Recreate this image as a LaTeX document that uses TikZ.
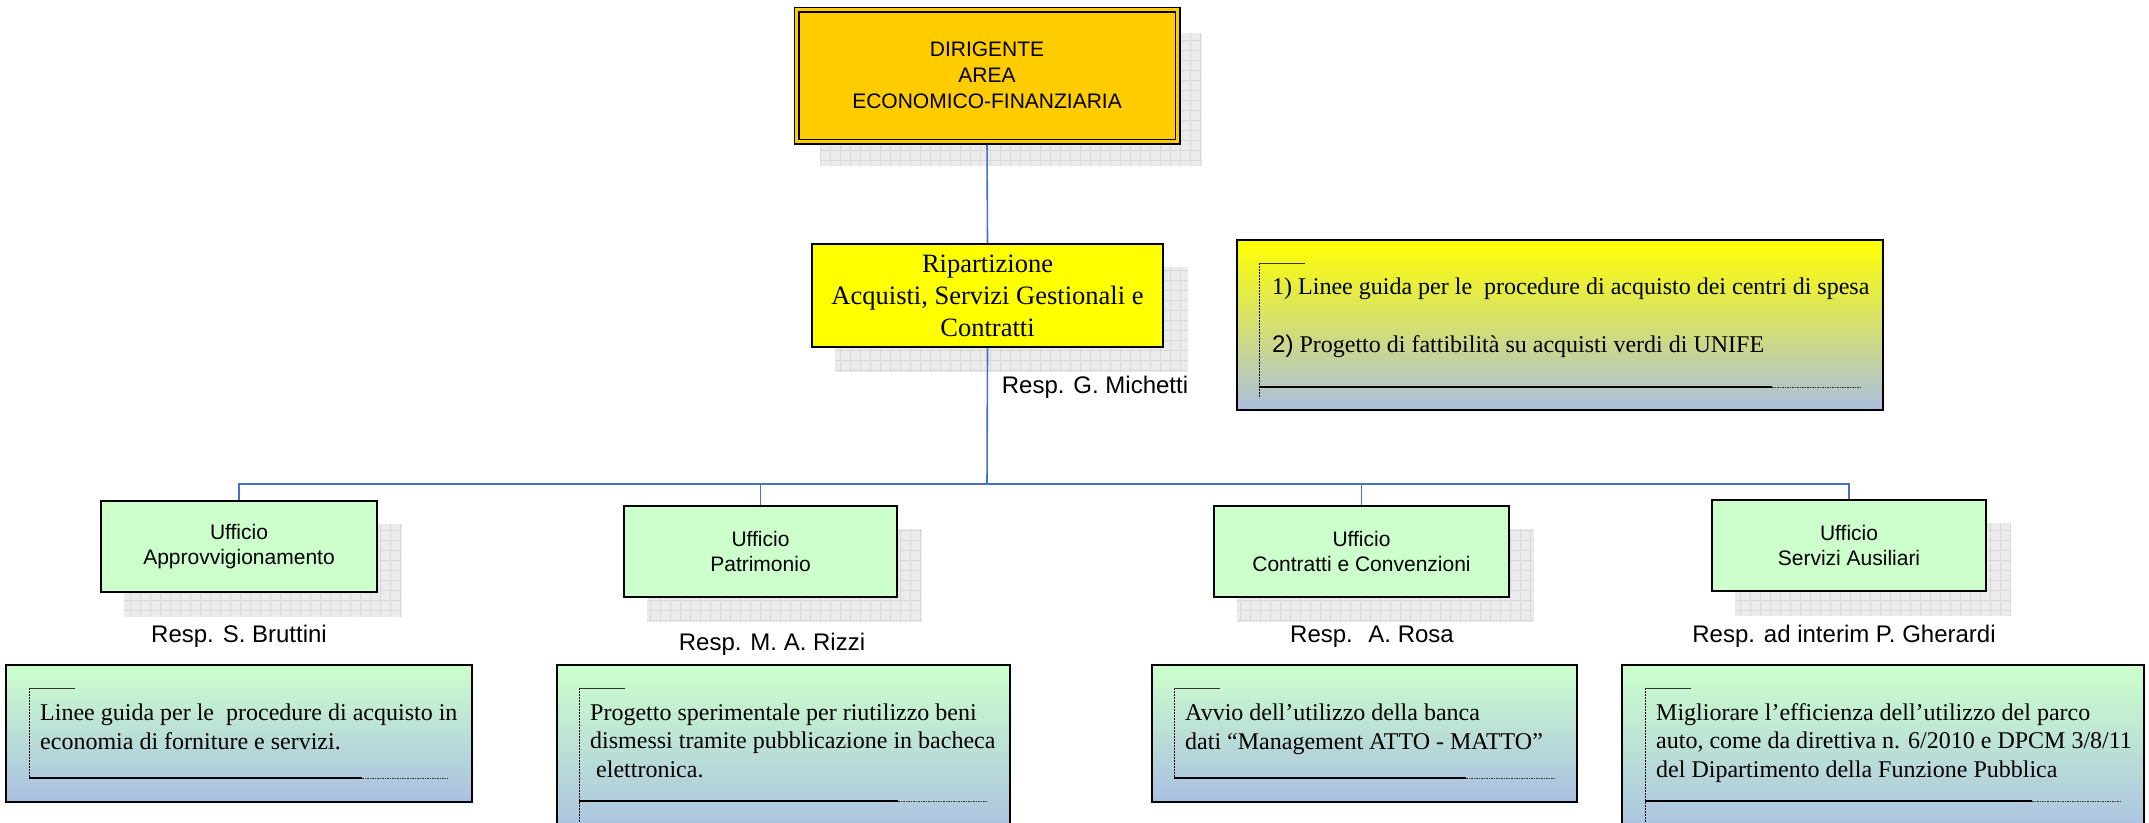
\documentclass[tikz,border=0pt]{standalone}
\usepackage{fontspec}
\setmainfont{Liberation Serif}
\setsansfont{Liberation Sans}
\usetikzlibrary{backgrounds}

\definecolor{dirorange}{RGB}{255,204,0}
\definecolor{ripyellow}{RGB}{255,255,0}
\definecolor{uffgreen}{RGB}{204,255,204}
\definecolor{goalblue}{RGB}{170,191,226}
\definecolor{connblue}{RGB}{68,114,196}

\begin{document}
\begin{tikzpicture}[x=1pt,y=1pt,
  every node/.style={inner sep=0pt},
  conn/.style={draw=connblue, line width=1.6pt},
  dirbox/.style={draw=black, line width=1.4pt, double=dirorange, double distance=3.2pt,
    fill=dirorange, align=center, font=\sffamily\fontsize{21}{26}\selectfont},
  ripbox/.style={draw=black, line width=1.6pt, fill=ripyellow, align=center,
    font=\fontsize{26.5}{32}\selectfont},
  ufficio/.style={draw=black, line width=1.6pt, fill=uffgreen, align=center,
    minimum height=91pt, font=\sffamily\fontsize{21}{25}\selectfont},
  resp/.style={font=\sffamily\fontsize{24}{28}\selectfont},
  goalbox/.style={draw=black, line width=1.6pt, top color=uffgreen, bottom color=goalblue},
  goaltext/.style={align=left, font=\fontsize{24}{28.5}\selectfont},
  shadowbox/.style={fill=black!8},
  shadowgrid/.style={draw=black!15, line width=0.5pt, step=10},
  bracketdash/.style={draw=black, line width=0.7pt, dash pattern=on 2pt off 1pt},
  brackettop/.style={draw=black!80, line width=0.9pt},
  bracketline/.style={draw=black, line width=1.1pt},
  bracketdot/.style={draw=black!80, line width=0.7pt, dash pattern=on 1.5pt off 1pt}]
\useasboundingbox (0,0) rectangle (2149,-822);

% direzione e ripartizione
\node[dirbox, minimum width=381pt, minimum height=132pt] (dir) at (987,-75.5)
  {DIRIGENTE\\AREA\\ECONOMICO-FINANZIARIA};
\node[ripbox, minimum width=351pt, minimum height=103pt] (rip) at (987.5,-295.5)
  {Ripartizione\\Acquisti, Servizi Gestionali e\\Contratti};
\node[resp, anchor=base] (rmic) at (1095,-393) {Resp. G. Michetti};

% uffici
\node[ufficio, minimum width=276pt] (uapp) at (239,-546.5) {Ufficio\\Approvvigionamento};
\node[ufficio, minimum width=273pt] (upat) at (760.5,-551.5) {Ufficio\\Patrimonio};
\node[ufficio, minimum width=295pt] (ucon) at (1361.5,-551.5) {Ufficio\\Contratti e Convenzioni};
\node[ufficio, minimum width=274pt] (uaus) at (1849,-545.5) {Ufficio\\Servizi Ausiliari};
\node[resp, anchor=base] (rapp) at (239,-642) {Resp. S. Bruttini};
\node[resp, anchor=base] (rpat) at (772,-650) {Resp. M. A. Rizzi};
\node[resp, anchor=base] (rcon) at (1372,-642) {Resp.~ A. Rosa};
\node[resp, anchor=base] (raus) at (1844,-642) {Resp. ad interim P. Gherardi};

% obiettivi
\node[goalbox, top color=ripyellow, minimum width=646pt, minimum height=170pt] (gacq) at (1560,-325) {};
\node[goalbox, minimum width=466pt, minimum height=137pt] (gapp) at (239,-733.5) {};
\node[goalbox, minimum width=453pt, minimum height=175pt] (gpat) at (783.5,-752.5) {};
\node[goalbox, minimum width=425pt, minimum height=137pt] (gcon) at (1364.5,-733.5) {};
\node[goalbox, minimum width=522pt, minimum height=175pt] (gaus) at (1883,-752.5) {};

\foreach \lx/\ty/\by/\sx/\ex/\vy in {1259/263/387/1772/1861/398, 29/688/778/362/448/778,
    579/688/801/898/987/830, 1174/688/778/1466/1554/778, 1645/688/801/2032/2122/830}{
  \draw[bracketdash] (\lx,-\ty) -- (\lx,-\vy);
  \draw[brackettop] (\lx,-\ty) -- ++(46,0);
  \draw[bracketline] (\lx,-\by) -- (\sx,-\by);
  \draw[bracketdot] (\sx,-\by) -- (\ex,-\by);
}

% base = ultima riga
\node[goaltext, anchor=base west] (tacq) at (1272,-352)
  {1) Linee guida per le~ procedure di acquisto dei centri di spesa\\[29pt]
   {\sffamily 2)} Progetto di fattibilità su acquisti verdi di UNIFE};
\node[goaltext, anchor=base west] (tapp) at (40,-749)
  {Linee guida per le~ procedure di acquisto in\\economia di forniture e servizi.};
\node[goaltext, anchor=base west] (tpat) at (590,-777)
  {Progetto sperimentale per riutilizzo beni\\dismessi tramite pubblicazione in bacheca\\~elettronica.};
\node[goaltext, anchor=base west] (tcon) at (1185,-749)
  {Avvio dell’utilizzo della banca\\dati “Management ATTO - MATTO”};
\node[goaltext, anchor=base west] (taus) at (1656,-777)
  {Migliorare l’efficienza dell’utilizzo del parco\\auto, come da direttiva n. 6/2010 e DPCM 3/8/11\\del Dipartimento della Funzione Pubblica};

% ombre e collegamenti
\begin{scope}[on background layer]
\foreach \n in {dir,rip,uapp,upat,ucon,uaus}{
  \fill[shadowbox] ([shift={(24,-24)}]\n.south west) rectangle ([shift={(24,-24)}]\n.north east);
  \draw[shadowgrid] ([shift={(24,-24)}]\n.south west) grid ([shift={(24,-24)}]\n.north east);
}
\coordinate (bar) at (987,-484);
\draw[conn] (dir.south) -- (rip.north);
\draw[conn] (rip.south) -- (bar);
\foreach \u in {uapp,upat,ucon,uaus}
  \draw[conn] (bar) -| (\u.north);
\end{scope}
\end{tikzpicture}
\end{document}
